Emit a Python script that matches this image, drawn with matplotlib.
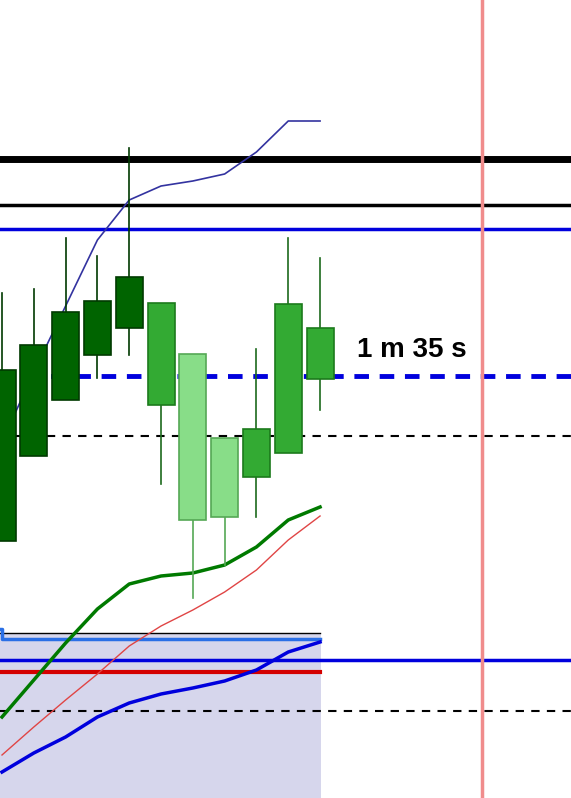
import matplotlib.pyplot as plt
from matplotlib.patches import Rectangle

# candle data (price axis in screen units, smaller = higher)
opens = [541, 456, 400, 355, 328, 303, 354, 438, 477, 453, 379]
closes = [370, 345, 312, 301, 277, 405, 520, 517, 429, 304, 328]
highs = [293, 289, 238, 256, 148, 303, 354, 438, 349, 238, 258]
lows = [541, 456, 400, 378, 355, 484, 598, 565, 517, 453, 410]
shades = ['dark', 'dark', 'dark', 'dark', 'dark', 'mid', 'light', 'light', 'mid', 'mid', 'mid']

# indicator lines, one value per candle
upper_band = [442, 372, 306, 240, 200, 186, 181, 174, 152, 121, 121]
green_ma = [717, 680, 643, 609, 584, 576, 573, 565, 547, 520, 507]
red_ma = [755, 727, 700, 674, 646, 626, 610, 592, 570, 540, 516]
blue_osc = [772, 753, 737, 717, 703, 694, 688, 681, 670, 652, 642]

# horizontal levels
level_thick = 159
level_black = 205
level_blue = 229
level_price = 376
level_dash = 436
level_blue_low = 660
level_dash_low = 711
level_red_low = 672
panel_top = 633
panel_line = 639
now_x = 15.09
timer_text = '1 m 35 s'

colors = {
    'dark': ('#006400', '#003a00', '#003a00'),
    'mid': ('#33aa33', '#1c7a1c', '#1c6a1c'),
    'light': ('#88dd88', '#55a855', '#55a855'),
}

fig = plt.figure(figsize=(5.71, 7.98), dpi=100)
ax = fig.add_axes([0, 0, 1, 1])
ax.set_xlim(-0.063, 17.89)
ax.set_ylim(798, 0)
ax.axis('off')

n = len(opens)
xs = list(range(n))

# lower panel background
ax.add_patch(Rectangle((-0.1, panel_top), n - 1 + 0.1 + 0.03, 798 - panel_top,
                       facecolor='#d6d6ec', edgecolor='none', zorder=0))
ax.plot([-0.1, n - 1], [panel_top, panel_top], color='black', lw=1, zorder=1)
ax.plot([-0.1, 0.0, 0.0, n - 1], [629, 629, panel_line, panel_line], color='#2a6fe6', lw=2.5, zorder=1)
ax.plot([-0.1, n - 1], [level_red_low, level_red_low], color='#d40000', lw=3, zorder=1)

# horizontal levels
ax.axhline(level_thick, color='black', lw=5, zorder=2)
ax.axhline(level_black, color='black', lw=2.5, zorder=2)
ax.axhline(level_blue, color='#0000dd', lw=2.5, zorder=2)
ax.axhline(level_price, color='#0000dd', lw=3.5, ls=(0, (3, 2.2)), zorder=1)
ax.axhline(level_dash, color='black', lw=1.5, ls=(0, (4, 3.5)), zorder=1)
ax.axhline(level_blue_low, color='#0000dd', lw=2.5, zorder=2)
ax.axhline(level_dash_low, color='black', lw=1.5, ls=(0, (4, 3.5)), zorder=1)
ax.axvline(now_x, color='#f08c8c', lw=2.5, zorder=2)

# indicator lines
ax.plot(xs, upper_band, color='#3333a0', lw=1.2, zorder=2)
ax.plot(xs, red_ma, color='#e04545', lw=1, zorder=3)
ax.plot(xs, green_ma, color='#007a00', lw=2.5, zorder=3)
ax.plot(xs, blue_osc, color='#0000dd', lw=2.5, zorder=3)

# candles
w = 0.85
for i in range(n):
    face, edge, wick = colors[shades[i]]
    top = min(opens[i], closes[i])
    bot = max(opens[i], closes[i])
    ax.plot([i, i], [highs[i], top], color=wick, lw=1.2, zorder=4)
    ax.plot([i, i], [bot, lows[i]], color=wick, lw=1.2, zorder=4)
    ax.add_patch(Rectangle((i - w / 2, top), w, bot - top, facecolor=face,
                           edgecolor=edge, lw=1.2, zorder=5))

ax.text(11.16, 350, timer_text, fontsize=20, fontweight='bold',
        family='Liberation Sans', va='center', ha='left', color='black', zorder=6)

fig.savefig('out.png', dpi=100)
